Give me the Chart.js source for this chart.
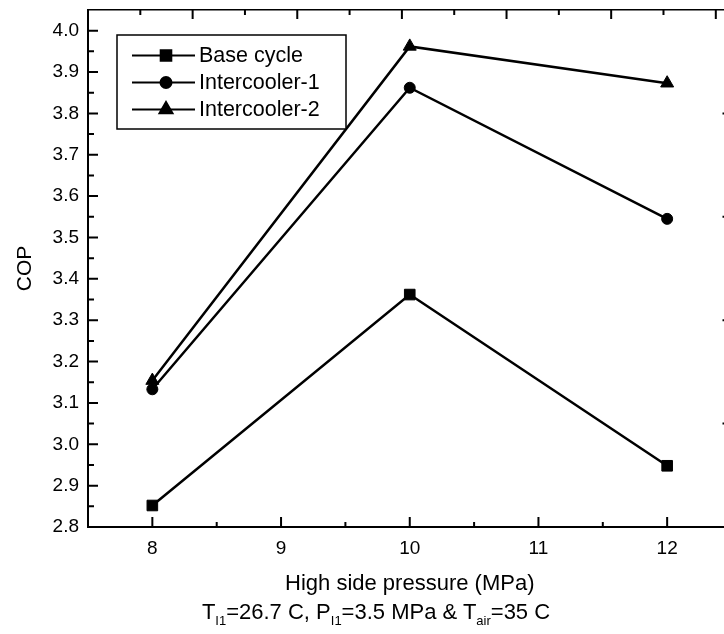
<!DOCTYPE html>
<html><head><meta charset="utf-8">
<script src="https://cdn.jsdelivr.net/npm/chart.js@4.4.1/dist/chart.umd.min.js"></script>
<style>
html,body{margin:0;padding:0;background:#fff;overflow:hidden;width:724px;height:634px;}
#wrap{position:absolute;left:0;top:0;width:740px;height:634px;}
#sub{position:absolute;left:0;width:752px;top:599px;text-align:center;font-family:"Liberation Sans",Arial,sans-serif;font-size:22px;line-height:26px;color:#000;white-space:nowrap;}
#sub sub{font-size:13px;vertical-align:-6px;line-height:0;}
</style></head><body>
<div id="wrap"><canvas id="c" width="740" height="634"></canvas></div>
<div id="sub">T<sub>I1</sub>=26.7 C, P<sub>I1</sub>=3.5 MPa &amp; T<sub>air</sub>=35 C</div>
<script>
// ---- data ----
const pressures = [8, 10, 12];
const baseCycle = [2.852, 3.362, 2.948];
const intercooler1 = [3.133, 3.862, 3.545];
const intercooler2 = [3.154, 3.962, 3.873];
const seriesLabels = ['Base cycle', 'Intercooler-1', 'Intercooler-2'];
const xTickValues = [8, 9, 10, 11, 12];
const xMinorTicks = [8.5, 9.5, 10.5, 11.5];
const yTickValues = [2.8, 2.9, 3.0, 3.1, 3.2, 3.3, 3.4, 3.5, 3.6, 3.7, 3.8, 3.9, 4.0];
const yMinorTicks = [2.85, 2.95, 3.05, 3.15, 3.25, 3.35, 3.45, 3.55, 3.65, 3.75, 3.85, 3.95];
const topMajorTicks = [2, 4, 6, 8, 10, 12];
const topMinorTicks = [1, 3, 5, 7, 9, 11];
const rightTicks = [3.05, 3.3, 3.55, 3.8];
const xTitle = 'High side pressure (MPa)';
const yTitle = 'COP';

const FONT = '"Liberation Sans", Arial, Helvetica, sans-serif';
const toPts = arr => pressures.map((x, i) => ({x: x, y: arr[i]}));

function ds(label, arr, style, r) {
  return {
    label: label, data: toPts(arr),
    borderColor: '#000', backgroundColor: '#000', borderWidth: 2.5,
    pointStyle: style, pointRadius: r, pointHoverRadius: r,
    pointBackgroundColor: '#000', pointBorderColor: '#000', pointBorderWidth: 1,
    tension: 0, fill: false, clip: false
  };
}

const inwardTicks = {
  id: 'inwardTicks',
  afterDraw(chart) {
    const c = chart.ctx, a = chart.chartArea;
    const x = chart.scales.x, y = chart.scales.y, xt = chart.scales.xTop;
    c.save();
    c.strokeStyle = '#000';
    c.lineWidth = 2;
    c.beginPath();
    yTickValues.forEach(v => { const p = y.getPixelForValue(v); c.moveTo(a.left, p); c.lineTo(a.left + 10, p); });
    yMinorTicks.forEach(v => { const p = y.getPixelForValue(v); c.moveTo(a.left, p); c.lineTo(a.left + 6, p); });
    xTickValues.forEach(v => { const p = x.getPixelForValue(v); c.moveTo(p, a.bottom); c.lineTo(p, a.bottom - 10); });
    xMinorTicks.forEach(v => { const p = x.getPixelForValue(v); c.moveTo(p, a.bottom); c.lineTo(p, a.bottom - 5); });
    topMajorTicks.forEach(v => { const p = xt.getPixelForValue(v); c.moveTo(p, a.top); c.lineTo(p, a.top + 9); });
    topMinorTicks.forEach(v => { const p = xt.getPixelForValue(v); c.moveTo(p, a.top); c.lineTo(p, a.top + 5); });
    rightTicks.forEach(v => { const p = y.getPixelForValue(v); c.moveTo(a.right, p); c.lineTo(a.right - 9, p); });
    c.stroke();
    c.restore();
  }
};

const boxLegend = {
  id: 'boxLegend',
  afterDraw(chart) {
    const c = chart.ctx;
    c.save();
    c.fillStyle = '#fff';
    c.fillRect(117, 35, 229, 94);
    c.strokeStyle = '#000';
    c.lineWidth = 1.5;
    c.strokeRect(117, 35, 229, 94);
    c.font = '21.5px ' + FONT;
    c.textBaseline = 'middle';
    c.textAlign = 'left';
    chart.data.datasets.forEach((d, i) => {
      const yy = 55.5 + i * 27;
      c.beginPath();
      c.moveTo(132, yy); c.lineTo(195, yy);
      c.lineWidth = 2; c.strokeStyle = '#000'; c.stroke();
      c.fillStyle = '#000';
      Chart.helpers.drawPoint(c, {pointStyle: d.pointStyle, radius: d.pointRadius, rotation: 0, borderWidth: 1}, 166, yy);
      c.fillStyle = '#000';
      c.fillText(d.label, 199, yy + 1);
    });
    c.restore();
  }
};

new Chart(document.getElementById('c'), {
  type: 'line',
  data: {
    datasets: [
      ds(seriesLabels[0], baseCycle, 'rect', 7.5),
      ds(seriesLabels[1], intercooler1, 'circle', 5.5),
      ds(seriesLabels[2], intercooler2, 'triangle', 7.5)
    ]
  },
  options: {
    responsive: false, animation: false, events: [],
    layout: {padding: {left: 13, top: 10, right: 0, bottom: 37}},
    plugins: {legend: {display: false}, tooltip: {enabled: false}},
    scales: {
      x: {
        type: 'linear', position: 'bottom', min: 7.5, max: 12.5,
        afterBuildTicks: s => { s.ticks = xTickValues.map(v => ({value: v})); },
        afterFit: s => { s.height = 70; s.paddingLeft = 0; s.paddingRight = 0; },
        grid: {display: false, drawTicks: false},
        border: {display: true, color: '#000', width: 2},
        ticks: {color: '#000', font: {family: FONT, size: 19}, padding: 10, callback: v => String(v)},
        title: {display: true, text: xTitle, color: '#000', font: {family: FONT, size: 22}, padding: 0}
      },
      xTop: {
        type: 'linear', position: 'top', min: 0, max: 12.3,
        afterFit: s => { s.height = 0; s.paddingLeft = 0; s.paddingRight = 0; },
        grid: {display: false, drawTicks: false},
        border: {display: true, color: '#000', width: 1.5},
        ticks: {display: false}
      },
      y: {
        type: 'linear', position: 'left', min: 2.8, max: 4.05,
        afterBuildTicks: s => { s.ticks = yTickValues.map(v => ({value: v})); },
        afterFit: s => { s.width = 75; s.paddingTop = 0; s.paddingBottom = 0; },
        grid: {display: false, drawTicks: false},
        border: {display: true, color: '#000', width: 2},
        ticks: {color: '#000', font: {family: FONT, size: 19}, padding: 9, callback: v => v.toFixed(1)},
        title: {display: true, text: yTitle, color: '#000', font: {family: FONT, size: 21}, padding: 0}
      }
    }
  },
  plugins: [inwardTicks, boxLegend]
});
</script>
</body></html>
